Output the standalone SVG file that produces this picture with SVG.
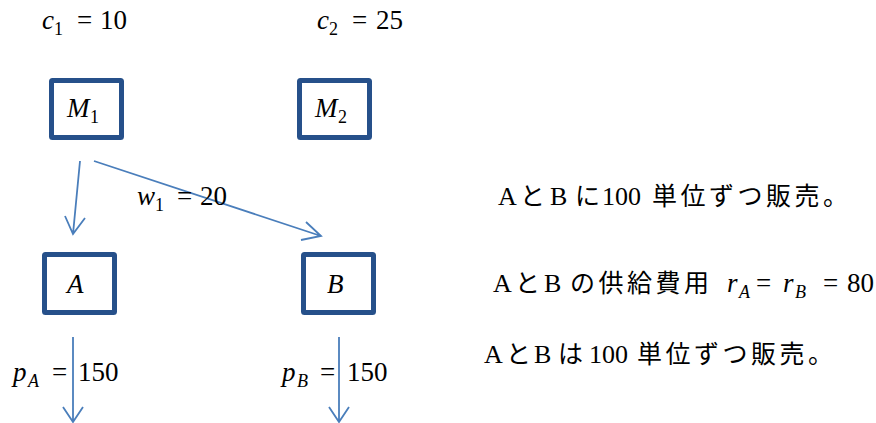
<svg xmlns="http://www.w3.org/2000/svg" width="876" height="423" viewBox="0 0 876 423" font-family="Liberation Serif, Times New Roman, serif">
<style>
.box{fill:#fff;stroke:#26508A;stroke-width:5}
.con{fill:none;stroke:#4A7EBB;stroke-width:1.8}
.m{font-size:27px;fill:#000}
.i{font-style:italic}
.s{font-size:18px}
.jp{font-size:26px;fill:#000}
.cj{font-size:25px;letter-spacing:3.5px}
</style>
<rect width="876" height="423" fill="#fff"/>
<g id="labels-top">
<text class="m"><tspan class="i" x="42" y="29">c</tspan><tspan class="s" x="54" y="35">1</tspan><tspan x="77" y="29">=</tspan><tspan x="100" y="29">10</tspan></text>
<text class="m"><tspan class="i" x="317" y="29">c</tspan><tspan class="s" x="329" y="35">2</tspan><tspan x="352" y="29">=</tspan><tspan x="376" y="29">25</tspan></text>
</g>
<g id="node-M1">
<rect class="box" x="51.5" y="80.5" width="70" height="57" rx="1"/>
<text class="m"><tspan class="i" x="67" y="117">M</tspan><tspan class="s" x="90" y="123">1</tspan></text>
</g>
<g id="node-M2">
<rect class="box" x="299.5" y="80.5" width="70" height="57" rx="1"/>
<text class="m"><tspan class="i" x="315" y="117">M</tspan><tspan class="s" x="338" y="123">2</tspan></text>
</g>
<g id="node-A">
<rect class="box" x="44.5" y="254.5" width="70" height="58" rx="1"/>
<text class="m i" x="67" y="293">A</text>
</g>
<g id="node-B">
<rect class="box" x="303.5" y="254.5" width="70" height="58" rx="1"/>
<text class="m i" x="327" y="293">B</text>
</g>
<g id="connectors">
<path class="con" d="M80,161 L73,234 M65,216 L73,234 L85,218"/>
<path class="con" d="M94,161 L321,236 M306,222 L321,236 L301,240"/>
<path class="con" d="M73,337 L73,422 M63,407 L73,422 L83,407"/>
<path class="con" d="M339,337 L339,422 M329,407 L339,422 L349,407"/>
</g>
<g id="labels-edges">
<text class="m"><tspan class="i" x="137" y="205">w</tspan><tspan class="s" x="155" y="211">1</tspan><tspan x="177" y="205">=</tspan><tspan x="200" y="205">20</tspan></text>
<text class="m"><tspan class="i" x="13" y="381">p</tspan><tspan class="s i" x="28" y="387">A</tspan><tspan x="52" y="381">=</tspan><tspan x="78" y="381">150</tspan></text>
<text class="m"><tspan class="i" x="282" y="381">p</tspan><tspan class="s i" x="297" y="387">B</tspan><tspan x="320" y="381">=</tspan><tspan x="347" y="381">150</tspan></text>
</g>
<g id="notes">
<text class="jp" y="205"><tspan x="498">A</tspan><tspan class="cj" font-family="Noto Sans CJK JP, sans-serif" x="520">と</tspan><tspan x="550">B</tspan><tspan class="cj" font-family="Noto Sans CJK JP, sans-serif" x="575">に</tspan><tspan x="602">100</tspan><tspan class="cj" font-family="Noto Sans CJK JP, sans-serif" x="652">単位ずつ販売。</tspan></text>
<text class="jp" y="292"><tspan x="493">A</tspan><tspan class="cj" font-family="Noto Sans CJK JP, sans-serif" x="515">と</tspan><tspan x="544">B</tspan><tspan class="cj" font-family="Noto Sans CJK JP, sans-serif" x="570">の供給費用</tspan></text>
<text class="m"><tspan class="i" x="727" y="292">r</tspan><tspan class="s i" x="739" y="298">A</tspan><tspan x="756" y="292">=</tspan><tspan class="i" x="783" y="292">r</tspan><tspan class="s i" x="795" y="298">B</tspan><tspan x="823" y="292">=</tspan><tspan x="847" y="292">80</tspan></text>
<text class="jp" y="363"><tspan x="484">A</tspan><tspan class="cj" font-family="Noto Sans CJK JP, sans-serif" x="506">と</tspan><tspan x="534">B</tspan><tspan class="cj" font-family="Noto Sans CJK JP, sans-serif" x="558">は</tspan><tspan x="589">100</tspan><tspan class="cj" font-family="Noto Sans CJK JP, sans-serif" x="637">単位ずつ販売。</tspan></text>
</g>
</svg>
